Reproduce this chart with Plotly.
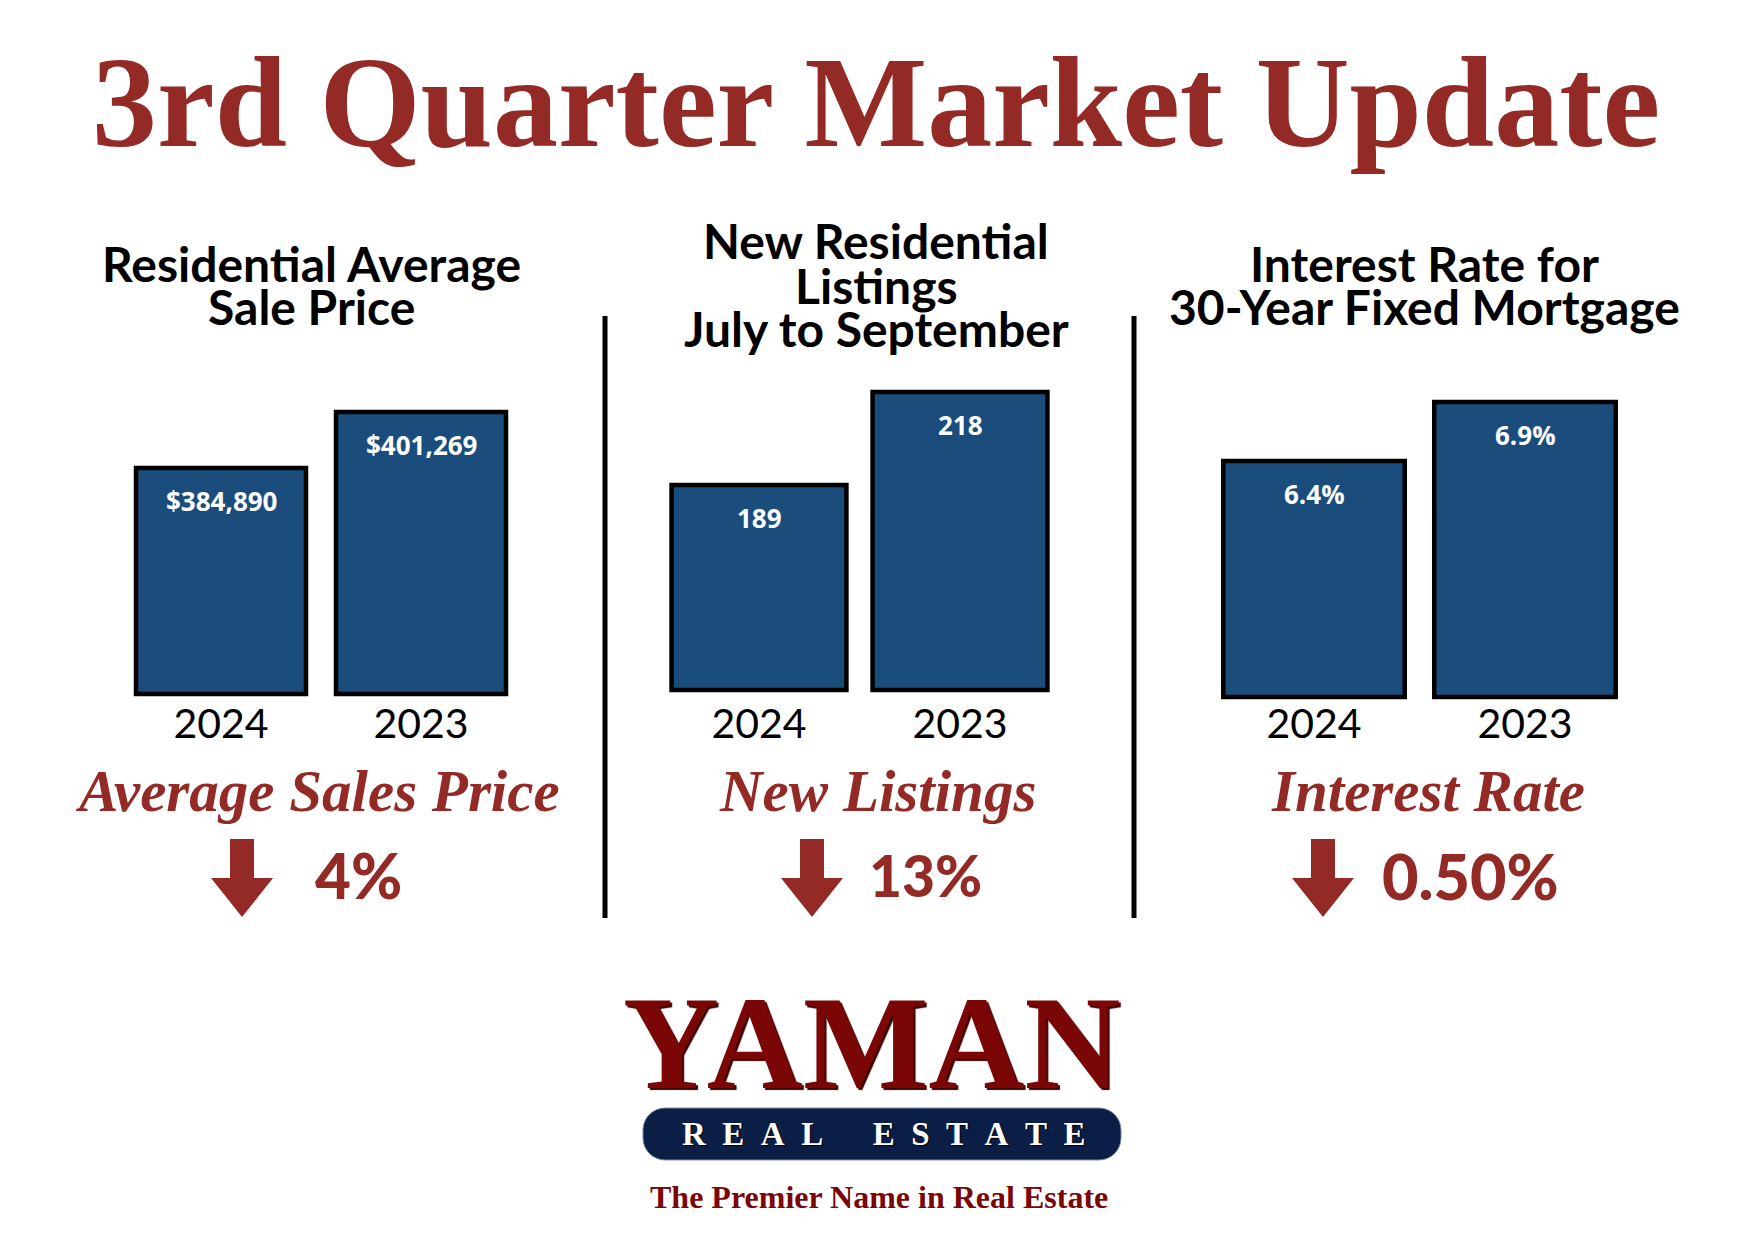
import plotly.graph_objects as go

# ---------------- data ----------------
categories = ["2024", "2023"]
avg_price = [384890, 401269]
new_listings = [189, 218]
interest_rate = [6.4, 6.9]
price_labels = ["$384,890", "$401,269"]
listing_labels = ["189", "218"]
rate_labels = ["6.4%", "6.9%"]

main_title = "3rd Quarter Market Update"
panel_titles = [
    ["Residential Average", "Sale Price"],
    ["New Residential", "Listings", "July to September"],
    ["Interest Rate for", "30-Year Fixed Mortgage"],
]
metric_names = ["Average Sales Price", "New Listings", "Interest Rate"]
changes = ["4%", "13%", "0.50%"]

# axis baselines (value at the bottom of the bars) and visible tops
axis_base = [318789, 125.14, 4.4]
axis_top = [410630, 221.7, 7.086]
axis_pad = [2925, 3.4, 0.06]   # small room below the baseline so the outline shows

W, H = 1748, 1240
OFF_X, OFF_Y = 8, 8   # page body margin
RED = "#942A25"
BAR = "#1A4D7C"
LOGO_RED = "#7A0606"
NAVY = "#0B1E46"


def px(x):
    return (x - OFF_X) / W


def py(y):
    return 1 - (y - OFF_Y) / H


fig = go.Figure()

series = [avg_price, new_listings, interest_rate]
labels = [price_labels, listing_labels, rate_labels]
x_domains = [(121, 521), (658.5, 1060.5), (1208.5, 1630.5)]
y_bottoms = [704, 701, 704]
tick_standoff = [-8, -5, -8]
bar_widths = [0.85, 0.87, 0.86]
y_top_px = 380

for i in range(3):
    sfx = "" if i == 0 else str(i + 1)
    fig.add_trace(go.Bar(
        x=categories, y=[v - axis_base[i] for v in series[i]], base=axis_base[i],
        width=bar_widths[i],
        marker=dict(color=BAR, line=dict(color="black", width=4.5)),
        xaxis="x" + sfx, yaxis="y" + sfx, showlegend=False,
        hoverinfo="skip",
    ))
    fig.update_layout(**{
        "xaxis" + sfx: dict(
            type="category", automargin=False, range=[-0.5, 1.5],
            domain=[px(x_domains[i][0]), px(x_domains[i][1])],
            anchor="y" + sfx, showgrid=False, zeroline=False, showline=False,
            ticks="", ticklabelstandoff=tick_standoff[i],
            tickfont=dict(family="Lato", size=41, color="black"),
            fixedrange=True,
        ),
        "yaxis" + sfx: dict(
            automargin=False,
            domain=[py(y_bottoms[i]), py(y_top_px)],
            anchor="x" + sfx,
            range=[axis_base[i] - axis_pad[i], axis_top[i]],
            visible=False, fixedrange=True,
        ),
    })
    for j, (v, t) in enumerate(zip(series[i], labels[i])):
        fig.add_annotation(
            x=j, y=v, xref="x" + sfx, yref="y" + sfx, text=t,
            showarrow=False, yanchor="middle", yshift=-33,
            font=dict(family="Open Sans", size=26, weight=700, color="white"),
        )

annotations = []
annotations.append(dict(
    x=px(876), y=py(102), text=main_title,
    font=dict(family="Liberation Serif", size=130, weight="bold", color=RED),
))
title_pos = [
    (311, [264, 306]),
    (876, [241, 285, 329]),
    (1424, [264, 306]),
]
for (cx, ys), lines in zip(title_pos, panel_titles):
    for yy, ln in zip(ys, lines):
        annotations.append(dict(
            x=px(cx), y=py(yy), text=ln,
            font=dict(family="Lato", size=48, weight="bold", color="black"),
        ))
metric_x = [317, 877, 1428]
for cx, name in zip(metric_x, metric_names):
    annotations.append(dict(
        x=px(cx), y=py(791), text=name,
        font=dict(family="Liberation Serif", size=59, weight="bold",
                  style="italic", color=RED),
    ))
change_x = [358, 925, 1470]
change_size = [62, 57, 63]
for cx, t, s in zip(change_x, changes, change_size):
    annotations.append(dict(
        x=px(cx), y=py(875), text=t,
        font=dict(family="Lato", size=s, weight=900, color=RED),
    ))
annotations.append(dict(
    x=px(872), y=py(1043), text="YAMAN",
    font=dict(family="Liberation Serif", size=133, weight="bold",
              color=LOGO_RED, shadow="2px 2px 1px #3a0000"),
))
annotations.append(dict(
    x=px(883), y=py(1134),
    text="R\u2002E\u2002A\u2002L\u2003\u2002E\u2002S\u2002T\u2002A\u2002T\u2002E",
    font=dict(family="Liberation Serif", size=33, weight="bold", color="white",
              shadow="1px 1px 1px #000000"),
))
annotations.append(dict(
    x=px(879), y=py(1197), text="The Premier Name in Real Estate",
    font=dict(family="Liberation Serif", size=32, weight="bold", color=LOGO_RED),
))
for a in annotations:
    a.update(xref="paper", yref="paper", showarrow=False,
             xanchor="center", yanchor="middle")
    fig.add_annotation(**a)

shapes = []
for dx in [605, 1134]:
    shapes.append(dict(type="line", xref="paper", yref="paper",
                       x0=px(dx), x1=px(dx), y0=py(316), y1=py(918),
                       line=dict(color="black", width=5)))
arrow_x = [242, 812, 1323]
for cx in arrow_x:
    pts = [(cx - 12, 839), (cx + 12, 839), (cx + 12, 878), (cx + 31, 878),
           (cx, 917), (cx - 31, 878), (cx - 12, 878)]
    path = "M " + " L ".join(f"{px(a):.5f},{py(b):.5f}" for a, b in pts) + " Z"
    shapes.append(dict(type="path", xref="paper", yref="paper", path=path,
                       fillcolor=RED, line=dict(width=0)))
x0, x1, y0, y1, r = 643, 1121, 1108, 1160, 22
k = 0.552 * r


def P(a, b):
    return f"{px(a):.5f},{py(b):.5f}"


pill = (f"M {P(x0 + r, y0)} L {P(x1 - r, y0)} "
        f"C {P(x1 - r + k, y0)} {P(x1, y0 + r - k)} {P(x1, y0 + r)} "
        f"L {P(x1, y1 - r)} "
        f"C {P(x1, y1 - r + k)} {P(x1 - r + k, y1)} {P(x1 - r, y1)} "
        f"L {P(x0 + r, y1)} "
        f"C {P(x0 + r - k, y1)} {P(x0, y1 - r + k)} {P(x0, y1 - r)} "
        f"L {P(x0, y0 + r)} "
        f"C {P(x0, y0 + r - k)} {P(x0 + r - k, y0)} {P(x0 + r, y0)} Z")
shapes.append(dict(type="path", xref="paper", yref="paper", path=pill,
                   fillcolor=NAVY, line=dict(color="#7f8aa3", width=1),
                   layer="below"))

fig.update_layout(
    width=W, height=H,
    margin=dict(l=0, r=0, t=0, b=0, pad=0, autoexpand=False),
    paper_bgcolor="white", plot_bgcolor="rgba(0,0,0,0)",
    shapes=shapes, showlegend=False,
)

fig.write_html("out.html")
